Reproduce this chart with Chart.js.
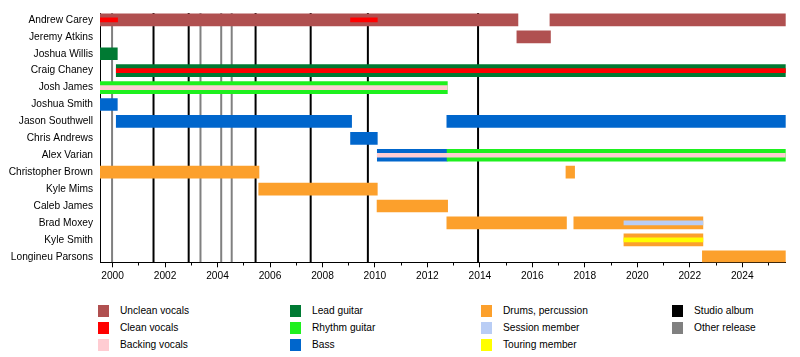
<!DOCTYPE html>
<html><head><meta charset="utf-8">
<script src="https://cdn.jsdelivr.net/npm/chart.js@4"></script>
<style>
html,body{margin:0;padding:0;background:#fff;}
#wrap{position:relative;width:800px;height:357px;overflow:hidden;}
#c{position:absolute;left:0;top:0;}
.lt{position:absolute;font:10.2px "Liberation Sans",Arial,sans-serif;color:#000;white-space:nowrap;line-height:13px;}
.sw{position:absolute;width:11px;height:12px;}
</style></head><body>
<div id="wrap"><canvas id="c" width="800" height="290"></canvas><div id="legend"></div></div>
<script>
// ---- data ----
const members = ["Andrew Carey","Jeremy Atkins","Joshua Willis","Craig Chaney","Josh James","Joshua Smith","Jason Southwell","Chris Andrews","Alex Varian","Christopher Brown","Kyle Mims","Caleb James","Brad Moxey","Kyle Smith","Longineu Parsons"];
const START = 1999.52, END = 2025.656;
const yearTicks = [2000,2001,2002,2003,2004,2005,2006,2007,2008,2009,2010,2011,2012,2013,2014,2015,2016,2017,2018,2019,2020,2021,2022,2023,2024,2025];

const uncleanVocals = [["Andrew Carey",START,2015.45],["Andrew Carey",2016.67,END],["Jeremy Atkins",2015.41,2016.69]];
const leadGuitar = [["Joshua Willis",START,2000.18],["Craig Chaney",2000.14,END]];
const rhythmGuitar = [["Josh James",START,2012.76],["Alex Varian",2012.75,END]];
const bass = [["Joshua Smith",START,2000.18],["Jason Southwell",2000.14,2009.11],["Jason Southwell",2012.74,END],["Chris Andrews",2009.07,2010.09],["Alex Varian",2010.09,2012.75]];
const drums = [["Christopher Brown",START,2005.58],["Christopher Brown",2017.28,2017.61],["Kyle Mims",2005.57,2010.09],["Caleb James",2010.08,2012.77],["Brad Moxey",2012.74,2017.3],["Brad Moxey",2017.58,2022.5],["Kyle Smith",2019.49,2022.5],["Longineu Parsons",2022.48,END]];
const cleanVocals = [["Andrew Carey",START,2000.19],["Andrew Carey",2009.07,2010.09],["Craig Chaney",2000.14,END]];
const backingVocals = [["Josh James",START,2012.76],["Alex Varian",2010.09,END]];
const sessionMember = [["Brad Moxey",2019.49,2022.5]];
const touringMember = [["Kyle Smith",2019.49,2022.5]];
const studioAlbums = [2001.56,2002.9,2005.45,2007.55,2009.73,2013.93];
const otherReleases = [1999.98,2003.35,2004.14,2004.54];

const legendItems = [
  ["Unclean vocals","#B05050"],["Clean vocals","#FF0000"],["Backing vocals","#FFCCD2"],
  ["Lead guitar","#007A33"],["Rhythm guitar","#1EF01E"],["Bass","#0066CC"],
  ["Drums, percussion","#FCA02C"],["Session member","#B9CDF5"],["Touring member","#FFFF00"],
  ["Studio album","#000000"],["Other release","#808080"]
];
const col = Object.fromEntries(legendItems);

// ---- build ----
const Y_MIN = -0.40, Y_MAX = 14.327;
function barSet(label, arr, color, thick, order){
  return {type:'bar', label, indexAxis:'y', grouped:false, barThickness:thick, order,
    backgroundColor:color, borderWidth:0,
    data: arr.map(([m,s,e]) => ({y: members.indexOf(m), x:[s,e]}))};
}
function lineSet(label, v, color){
  return {type:'line', label, indexAxis:'y', order:10, borderColor:color, borderWidth:2,
    pointRadius:0, fill:false, tension:0,
    data:[{x:v,y:Y_MIN},{x:v,y:Y_MAX}]};
}
const datasets = [
  barSet("Unclean vocals", uncleanVocals, col["Unclean vocals"], 12, 2),
  barSet("Lead guitar", leadGuitar, col["Lead guitar"], 12, 2),
  barSet("Rhythm guitar", rhythmGuitar, col["Rhythm guitar"], 12, 2),
  barSet("Bass", bass, col["Bass"], 12, 2),
  barSet("Drums, percussion", drums, col["Drums, percussion"], 12, 2),
  barSet("Clean vocals", cleanVocals, col["Clean vocals"], 4, 1),
  barSet("Backing vocals", backingVocals, col["Backing vocals"], 4, 1),
  barSet("Session member", sessionMember, col["Session member"], 4, 1),
  barSet("Touring member", touringMember, col["Touring member"], 4, 1),
  ...studioAlbums.map(v => lineSet("Studio album", v, col["Studio album"])),
  ...otherReleases.map(v => lineSet("Other release", v, col["Other release"]))
];

const FONT = {family:'"Liberation Sans", Arial, sans-serif', size:10.2};
new Chart(document.getElementById('c'), {
  data:{datasets},
  options:{
    responsive:false, animation:false, devicePixelRatio:1,
    indexAxis:'y',
    layout:{padding:{top:10,right:14.3,left:0,bottom:0}},
    plugins:{legend:{display:false}, tooltip:{enabled:false}},
    events:[],
    scales:{
      x:{type:'linear', position:'bottom', min:START, max:END, offset:false,
        afterFit:(s)=>{s.height = 27.7;},
        afterBuildTicks:(s)=>{s.ticks = yearTicks.map(v=>({value:v}));},
        grid:{offset:false, drawOnChartArea:false, drawTicks:true, tickLength:5, tickColor:'#000', tickWidth:1,
          tickBorderDash:(ctx)=> (ctx.tick && ctx.tick.value % 2) ? [2.5,100] : []},
        border:{display:true,color:'#000',width:1},
        ticks:{autoSkip:false, maxRotation:0, padding:3, color:'#000', font:FONT,
          callback:(v)=> (v % 2 === 0) ? String(v) : ''}
      },
      y:{type:'linear', position:'left', reverse:true, min:Y_MIN, max:Y_MAX, offset:false,
        afterFit:(s)=>{s.width = 100;},
        afterBuildTicks:(s)=>{s.ticks = members.map((_,i)=>({value:i}));},
        grid:{offset:false, drawOnChartArea:false, drawTicks:false},
        border:{display:true,color:'#000',width:1},
        ticks:{autoSkip:false, padding:7, color:'#000', font:FONT,
          callback:(v)=> members[v] ?? ''}
      }
    }
  }
});

// ---- HTML legend ----
const colX = [[98,120],[290,312],[481,503],[672,694]];
const rowY = [304.8,321.8,338.8];
const lg = document.getElementById('legend');
legendItems.forEach(([name,color],i)=>{
  const c = Math.floor(i/3), r = i%3;
  const sw = document.createElement('div'); sw.className='sw';
  sw.style.left = colX[c][0]+'px'; sw.style.top = rowY[r]+'px'; sw.style.background = color;
  const t = document.createElement('div'); t.className='lt';
  t.style.left = colX[c][1]+'px'; t.style.top = (rowY[r]-0.5)+'px'; t.textContent = name;
  lg.appendChild(sw); lg.appendChild(t);
});
</script>
</body></html>
